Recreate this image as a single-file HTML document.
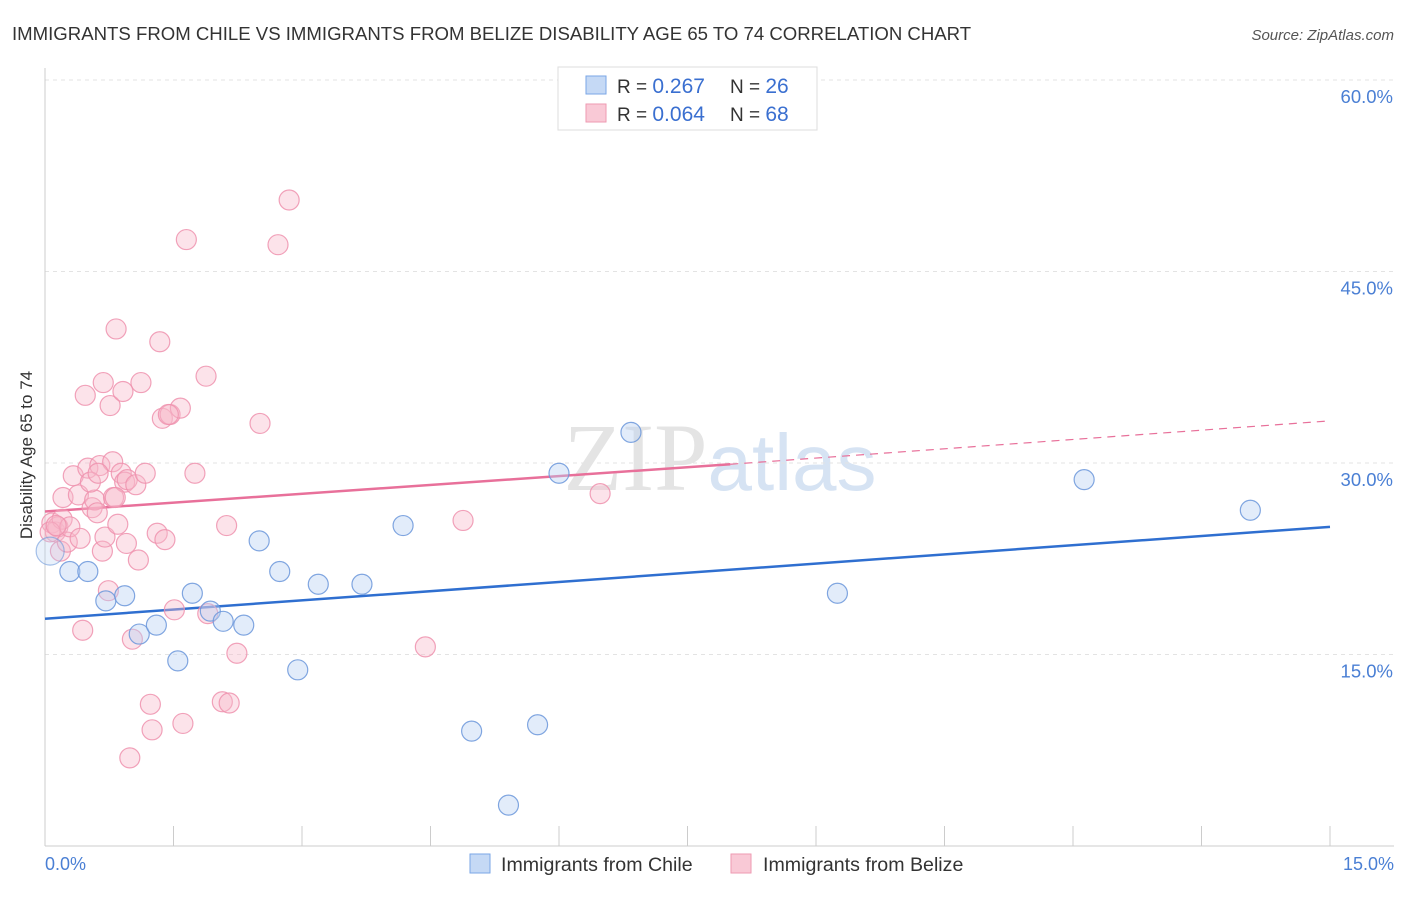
<!DOCTYPE html>
<html><head><meta charset="utf-8"><style>
body{margin:0;background:#fff;font-family:"Liberation Sans",sans-serif}
</style></head><body>
<svg width="1406" height="892" xmlns="http://www.w3.org/2000/svg">
<text x="12" y="40" font-size="18.6" fill="#333">IMMIGRANTS FROM CHILE VS IMMIGRANTS FROM BELIZE DISABILITY AGE 65 TO 74 CORRELATION CHART</text>
<text x="1394" y="40" font-size="15" fill="#555" font-style="italic" text-anchor="end">Source: ZipAtlas.com</text>
<text x="720" y="490" font-size="96" fill="#e4e4e4" text-anchor="middle" font-family="Liberation Serif">ZIP<tspan fill="#d6e3f3" font-family="Liberation Sans" font-size="80">atlas</tspan></text>
<g id="grid"></g>
<line x1="45" y1="68" x2="45" y2="846" stroke="#ccc"/>
<line x1="45" y1="846" x2="1394" y2="846" stroke="#ccc"/>
<text x="32" y="455" font-size="17" fill="#333" text-anchor="middle" transform="rotate(-90 32 455)">Disability Age 65 to 74</text>
<text x="45" y="870" font-size="18" fill="#4a7fd4">0.0%</text>
<text x="1394" y="870" font-size="18" fill="#4a7fd4" text-anchor="end">15.0%</text>
<g id="lines"></g>
<g id="pts"></g>
<g>
<rect x="558" y="67" width="259" height="63" fill="#fff" stroke="#ddd"/>
<rect x="586" y="76" width="20" height="18" fill="#c5d9f5" stroke="#7aa6e6"/>
<rect x="586" y="104" width="20" height="18" fill="#f9c9d6" stroke="#ee9ab2"/>
<text x="617" y="93" font-size="19" fill="#333">R = <tspan fill="#3a6fd0" font-size="21">0.267</tspan></text>
<text x="730" y="93" font-size="19" fill="#333">N = <tspan fill="#3a6fd0" font-size="21">26</tspan></text>
<text x="617" y="121" font-size="19" fill="#333">R = <tspan fill="#3a6fd0" font-size="21">0.064</tspan></text>
<text x="730" y="121" font-size="19" fill="#333">N = <tspan fill="#3a6fd0" font-size="21">68</tspan></text>
</g>
<g>
<rect x="470" y="854" width="20" height="19" fill="#c5d9f5" stroke="#7aa6e6"/>
<text x="501" y="871" font-size="19.6" fill="#333">Immigrants from Chile</text>
<rect x="731" y="854" width="20" height="19" fill="#f9c9d6" stroke="#ee9ab2"/>
<text x="763" y="871" font-size="19.6" fill="#333">Immigrants from Belize</text>
</g>
</svg>
<script>
const yTicks=[15,30,45,60];
const xTicks=[0,1.5,3,4.5,6,7.5,9,10.5,12,13.5,15];
const chileX=[0.06,0.29,0.5,0.71,0.93,1.1,1.3,1.55,1.72,1.93,2.08,2.32,2.5,2.74,2.95,3.19,3.7,4.18,4.98,5.41,5.75,6.0,6.84,9.25,12.13,14.07];
const chileY=[23.1,21.5,21.5,19.2,19.6,16.6,17.3,14.5,19.8,18.4,17.6,17.3,23.9,21.5,13.8,20.5,20.5,25.1,9.0,3.2,9.5,29.2,32.4,19.8,28.7,26.3];
const belizeX=[0.08,0.12,0.15,0.18,0.2,0.21,0.26,0.29,0.33,0.39,0.41,0.44,0.47,0.5,0.55,0.58,0.61,0.64,0.67,0.68,0.7,0.74,0.76,0.79,0.8,0.83,0.85,0.89,0.91,0.93,0.95,0.96,1.02,1.06,1.09,1.12,1.17,1.23,1.25,1.31,1.34,1.37,1.4,1.46,1.51,1.58,1.61,1.65,1.75,1.88,1.9,2.07,2.12,2.15,2.24,2.51,2.72,2.85,4.44,4.88,6.48,0.99,0.06,0.13,0.53,0.62,0.82,1.44];
const belizeY=[25.3,24.6,25.0,23.1,25.6,27.3,23.8,25.0,29.0,27.5,24.1,16.9,35.3,29.6,26.5,27.1,26.1,29.8,23.1,36.3,24.2,20.0,34.5,30.1,27.3,40.5,25.2,29.2,35.6,28.5,23.7,28.7,16.2,28.3,22.4,36.3,29.2,11.1,9.1,24.5,39.5,33.5,24.0,33.8,18.5,34.3,9.6,47.5,29.2,36.8,18.2,11.3,25.1,11.2,15.1,33.1,47.1,50.6,15.6,25.5,27.6,6.9,24.6,25.1,28.5,29.2,27.3,33.8];
const X=v=>45+v/15*1285, Y=v=>846-v/15*191.5;
const NS="http://www.w3.org/2000/svg";
function mk(t,a,p){const e=document.createElementNS(NS,t);for(const k in a)e.setAttribute(k,a[k]);document.getElementById(p).appendChild(e);return e;}
yTicks.forEach(t=>{const l=mk('line',{x1:45,x2:1394,y1:Y(t),y2:Y(t),stroke:'#e3e3e3','stroke-dasharray':'4,4'},'grid');


const tx=mk('text',{x:1393,y:Y(t)+23,'font-size':18.5,fill:'#4a7fd4','text-anchor':'end'},'grid');tx.textContent=t.toFixed(1)+'%';

});
xTicks.forEach(t=>{const l=mk('line',{x1:X(t),x2:X(t),y1:826,y2:846,stroke:'#ccc'},'grid');

});
function pts(xs,ys,f,s,n){xs.forEach((x,i)=>{const big=i==0&&n=='chile-point';const c=mk('circle',{cx:X(x),cy:Y(ys[i]),r:big?14:10,fill:f,stroke:s,'stroke-width':1.2,'fill-opacity':big?0.3:0.4,'stroke-opacity':big?0.6:0.85},'pts');

});}
pts(belizeX,belizeY,'#f7b8ca','#ee92ae','belize-point');
pts(chileX,chileY,'#b7d0f2','#6b97da','chile-point');
let l=mk('line',{x1:X(0),y1:Y(17.8),x2:X(15),y2:Y(25.0),stroke:'#2f6fd0','stroke-width':2.5},'lines');


l=mk('line',{x1:X(0),y1:Y(26.2),x2:X(8.0),y2:Y(29.9),stroke:'#e8709a','stroke-width':2.5},'lines');


l=mk('line',{x1:X(8.0),y1:Y(29.9),x2:X(15),y2:Y(33.3),stroke:'#e8709a','stroke-width':1.2,'stroke-dasharray':'8,6'},'lines');


</script>
</body></html>
